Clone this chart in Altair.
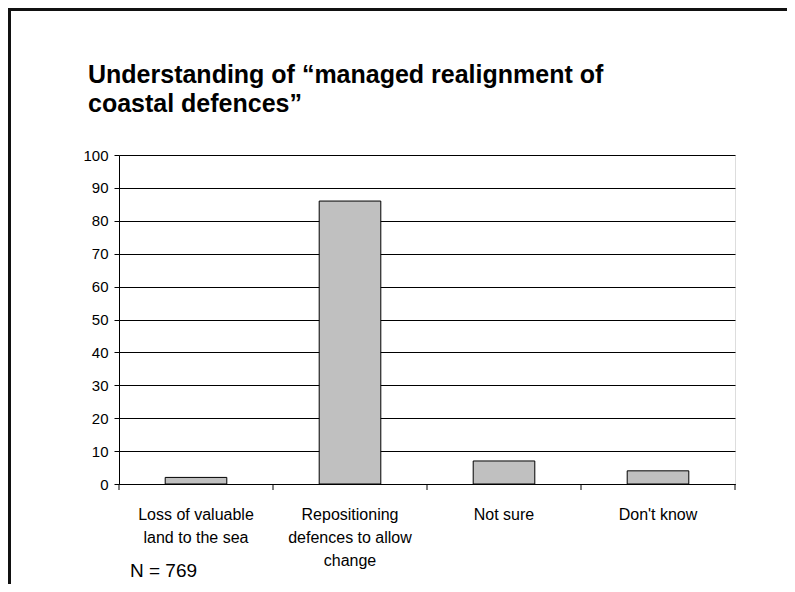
import altair as alt
import pandas as pd

title_lines = ["Understanding of \u201cmanaged realignment of", "coastal defences\u201d"]
categories = ["Loss of valuable\nland to the sea",
              "Repositioning\ndefences to allow\nchange",
              "Not sure",
              "Don't know"]
values = [2, 86, 7, 4]
y_ticks = [0, 10, 20, 30, 40, 50, 60, 70, 80, 90, 100]
note = "N = 769"

W, H = 616, 329
PAD_L, PAD_T, PAD_R, PAD_B = 111, 147, 52, 100

df = pd.DataFrame({"category": categories, "value": values})
bounds = pd.DataFrame({"b": list(range(len(categories) + 1))})

label_font = "Liberation Sans, Arial, sans-serif"

bars = alt.Chart(df).mark_bar(
    fill="#c0c0c0", stroke="black", strokeWidth=1
).encode(
    x=alt.X("category:N", sort=categories, title=None,
            scale=alt.Scale(paddingInner=0.6, paddingOuter=0.3),
            axis=alt.Axis(labelAngle=0, ticks=False, domain=True, domainColor="black",
                          labelExpr="split(datum.label, '\\n')",
                          labelFont=label_font, labelFontSize=16, labelColor="black",
                          labelLineHeight=23, labelPadding=22, labelLimit=300)),
    y=alt.Y("value:Q", title=None,
            scale=alt.Scale(domain=[0, 100], nice=False),
            axis=alt.Axis(values=y_ticks, grid=True, gridColor="black", gridWidth=1,
                          domainColor="black", tickColor="black", tickSize=5,
                          labelFont=label_font, labelFontSize=15, labelColor="black",
                          labelPadding=6)),
)

ticks = alt.Chart(bounds).mark_rule(color="black", strokeWidth=1).encode(
    x=alt.X("b:Q", axis=None, scale=alt.Scale(domain=[0, len(categories)], nice=False, zero=False)),
    y=alt.value(H),
    y2=alt.value(H + 6),
)

note_layer = alt.Chart(pd.DataFrame({"t": [note]})).mark_text(
    align="left", baseline="alphabetic", font="Liberation Sans, Arial, sans-serif",
    fontSize=19, color="black"
).encode(text="t:N", x=alt.value(11), y=alt.value(422))

title_baselines = [-72, -43]
title_layers = [
    alt.Chart(pd.DataFrame({"t": [line]})).mark_text(
        align="left", baseline="alphabetic", font="Liberation Sans, Arial, sans-serif",
        fontSize=25, fontWeight="bold", color="black"
    ).encode(text="t:N", x=alt.value(-31), y=alt.value(yb))
    for line, yb in zip(title_lines, title_baselines)
]

frame_left = alt.Chart(pd.DataFrame({"k": [0]})).mark_rule(color="#111", strokeWidth=3).encode(
    x=alt.value(-109.5), y=alt.value(-PAD_T), y2=alt.value(H + PAD_B))
frame_top = alt.Chart(pd.DataFrame({"k": [0]})).mark_rule(color="#111", strokeWidth=3).encode(
    y=alt.value(-145.5), x=alt.value(-PAD_L), x2=alt.value(W + PAD_R))

chart = alt.layer(bars, ticks, note_layer, *title_layers, frame_left, frame_top).resolve_scale(
    x="independent"
).properties(
    width=W, height=H,
    autosize=alt.AutoSizeParams(type="none"),
    padding={"left": PAD_L, "top": PAD_T, "right": PAD_R, "bottom": PAD_B},
).configure_view(stroke="black", strokeWidth=1).configure(background="white")

chart.save("out.html", embed_options={"renderer": "svg", "actions": False})
